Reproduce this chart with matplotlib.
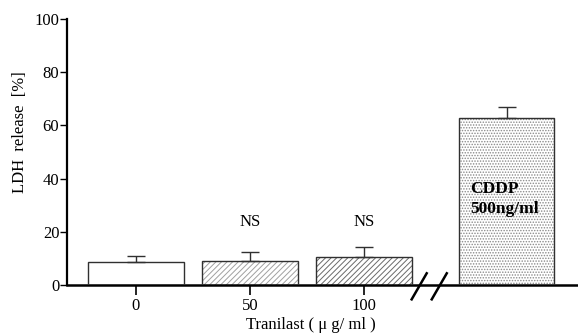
import matplotlib
matplotlib.use("Agg")
import matplotlib.pyplot as plt

plt.rcParams['font.family'] = ['Liberation Serif', 'DejaVu Serif']
plt.rcParams['hatch.linewidth'] = 0.7

# data
categories = ["0", "50", "100", "CDDP"]
values = [8.5, 9.0, 10.5, 62.6]
errors = [2.3, 3.4, 3.8, 4.2]
ns_labels = ["", "NS", "NS", ""]
yticks = [0, 20, 40, 60, 80, 100]

xpos = [0, 1, 2, 3.25]
width = 0.84
hatches = [None, "//////", "//////", "......"]
hatch_colors = ["white", "#a0a0a0", "#6a6a6a", "#8a8a8a"]

fig = plt.figure(figsize=(5.78, 3.35), dpi=100)
ax = fig.add_axes([67/578, 50/335, (578-67)/578, 266/335])

for x, v, h, hc in zip(xpos, values, hatches, hatch_colors):
    ax.bar(x, v, width=width, color="white", edgecolor=hc, linewidth=0, hatch=h, zorder=2)
    ax.bar(x, v, width=width, color="none", edgecolor="#303030", linewidth=1.0, zorder=3)

ax.errorbar(xpos, values, yerr=[[0]*4, errors], fmt="none", ecolor="#303030",
            elinewidth=1.0, capsize=6.5, capthick=1.0, zorder=4)

for x, t in zip(xpos, ns_labels):
    if t:
        ax.text(x, 23.5, t, ha="center", va="center", fontsize=12)

ax.text(3.25 - width/2 + 0.1, 32.4, "CDDP\n500ng/ml", ha="left", va="center",
        fontsize=12.5, fontweight="bold", linespacing=1.3, zorder=5)

ax.set_xlim(-0.605, 3.877)
ax.set_ylim(0, 100)
ax.set_xticks(xpos[:3])
ax.set_xticklabels(categories[:3], fontsize=12)
ax.set_yticks(yticks)
ax.set_yticklabels([str(t) for t in yticks], fontsize=12)
ax.tick_params(axis="x", direction="out", length=7, width=1.2, pad=2)
ax.tick_params(axis="y", direction="out", length=5, width=1.0, pad=0.5)

for s in ["top", "right"]:
    ax.spines[s].set_visible(False)
ax.spines["left"].set_linewidth(1.6)
ax.spines["bottom"].set_linewidth(1.8)

# axis break marks
for x0 in [2.418, 2.594]:
    ax.plot([x0, x0 + 0.132], [-5.4, 4.4], color="black", linewidth=1.8,
            clip_on=False, zorder=6)

fig.text(311/578, 1 - 325/335, "Tranilast ( μ g/ ml )", ha="center", va="center", fontsize=12)
fig.text(20/578, 1 - 132/335, "LDH  release  [%]", ha="center", va="center",
         rotation=90, fontsize=12)

fig.savefig("out.png", dpi=100)
